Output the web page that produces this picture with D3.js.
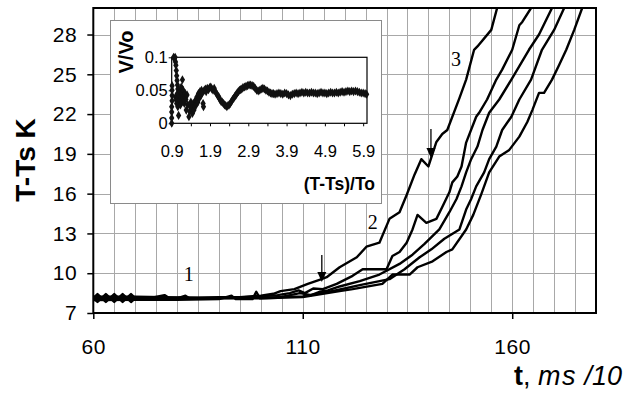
<!DOCTYPE html>
<html>
<head>
<meta charset="utf-8">
<script src="https://cdn.jsdelivr.net/npm/d3@7"></script>
<style>
  body { margin: 0; background: #fff; }
  svg { display: block; font-family: "Liberation Sans", Arial, sans-serif; }
</style>
</head>
<body>
<svg id="chart" width="637" height="393"></svg>
<script>
// main chart: T-Ts (K) against t (ms/10), five runs
const xTicks = [60, 110, 160];
const yTicks = [7, 10, 13, 16, 19, 22, 25, 28];
const xGrid = [65, 70, 75, 80, 85, 90, 95, 100, 105, 110, 115, 120, 125, 130, 135, 140, 145, 150, 155, 160, 165, 170, 175];
const yGrid = [10, 13, 16, 19, 22, 25, 28];

const curveA = [[60,8.13],[61,8.43],[63,7.83],[65,8.43],[67,7.83],[69,8.43],[70,8.13],[74,8.15],[77,8.35],[78,8.15],[85,8.15],[90,8.2],[95,8.2],[100,8.3],[103,8.45],[104.7,8.65],[108,8.8],[111.2,9.2],[114.5,9.55],[115.7,9.7],[118.8,10.45],[122.9,11.2],[125.2,12.0],[128.3,12.3],[130.7,14.1],[133.1,14.6],[134.8,15.9],[136.7,17.45],[138.3,18.6],[140.0,18.05],[141.9,19.9],[143.3,20.5],[144.5,20.8],[147.4,23.2],[149.0,24.6],[150.9,26.85],[151.7,27.1],[155.0,28.35],[156.4,30.0],[157,30.5]];
const curveB = [[60,8.13],[61,7.83],[63,8.43],[65,7.83],[67,8.43],[69,7.83],[70,8.1],[80,8.1],[82,8.3],[83,8.1],[90,8.15],[96,8.2],[100,8.25],[104,8.35],[106.9,8.5],[109,8.7],[110.5,8.5],[112.5,8.85],[114.8,8.8],[118.1,9.2],[121.9,9.8],[124.3,10.3],[130.0,10.3],[131.4,11.3],[133.1,11.6],[134.8,12.3],[136.2,13.3],[137.4,14.4],[139.5,13.8],[141.9,14.1],[143.3,15.0],[145.0,16.1],[145.7,16.85],[146.9,17.3],[147.9,18.05],[149.0,19.85],[151.4,21.8],[152.1,22.1],[154.0,23.1],[156.2,24.6],[157.6,25.35],[160.0,26.85],[161.7,28.7],[162.4,28.95],[164.5,30.0],[165,30.4]];
const curveC = [[60,7.98],[70,8.0],[80,8.0],[90,8.05],[93,8.3],[94,8.05],[98,8.05],[98.9,8.6],[99.8,8.1],[104,8.15],[107,8.35],[109.3,8.5],[112,8.35],[114,8.6],[116,8.7],[118.8,9.0],[123.6,9.4],[128.3,9.9],[133.1,10.7],[136.2,11.4],[139.0,12.2],[142.6,13.3],[145.0,14.6],[146.7,15.6],[147.9,16.55],[149.0,17.6],[150.2,18.6],[151.7,19.55],[152.9,20.8],[154.5,22.1],[156.9,23.1],[159.8,24.6],[164.0,26.85],[166.4,28.0],[169.5,30.0],[170,30.4]];
const curveD = [[60,8.1],[70,8.12],[80,8.08],[90,8.1],[100,8.15],[110,8.25],[116.4,8.6],[123.6,9.1],[130.7,9.55],[134.3,10.3],[137.9,11.2],[140.7,11.8],[143.8,12.6],[147.4,13.3],[149.0,14.8],[150.2,15.6],[151.4,16.55],[153.3,17.6],[154.5,18.6],[156.2,19.55],[157.6,20.8],[159.8,21.8],[161.7,23.1],[164.5,24.6],[167.1,26.85],[170.0,28.35],[172.4,30.0],[173,30.4]];
const curveE = [[60,8.22],[70,8.22],[80,8.18],[90,8.12],[100,8.1],[110,8.2],[118.8,8.65],[121.9,8.8],[129.0,9.2],[131.4,9.9],[135.5,9.9],[137.4,10.45],[141.0,10.9],[144.3,11.6],[145.7,11.8],[149.0,13.3],[150.7,14.4],[152.6,15.95],[154.5,17.6],[156.9,18.8],[159.3,19.3],[161.7,20.3],[163.6,21.4],[164.8,22.3],[166.4,23.6],[167.6,23.6],[169.5,24.6],[171.2,25.7],[172.9,26.85],[174.8,28.35],[176.7,30.0],[177.3,30.4]];

const curveLabels = [{ text: "1", t: 82.8, v: 9.94 }, { text: "2", t: 126.7, v: 13.86 }, { text: "3", t: 146.6, v: 26.16 }];
const arrows = [{ t: 114.55, from: 11.37, to: 9.34 }, { t: 140.6, from: 20.88, to: 18.69 }];

// inset: V/Vo against (T-Ts)/To
const insetXTicks = [0.9, 1.9, 2.9, 3.9, 4.9, 5.9];
const insetXMinor = [0.9, 1.4, 1.9, 2.4, 2.9, 3.4, 3.9, 4.4, 4.9, 5.4, 5.9];
const insetYTicks = [0, 0.05, 0.1];
const insetX = [0.90,0.90,0.90,0.90,0.91,0.91,0.91,0.91,0.95,0.97,0.99,1.00,1.01,1.02,1.03,1.04,1.05,1.06,
  1.00,1.02,1.03,1.05,1.06,1.07,1.08,1.09,1.10,1.11,1.12,1.13,1.14,1.15,1.16,1.17,1.18,1.19,1.20,1.22,1.23,1.25,1.27,1.28,1.30,1.32,
  1.35,1.37,1.39,1.40,1.42,1.44,1.46,1.48,1.50,1.52,1.54,1.56,1.58,1.60,1.62,1.64,1.66,1.68,
  1.70,1.72,1.73,1.75,1.78,1.80,1.83,1.86,1.89,1.92,1.95,1.98,2.01,2.04,2.07,
  2.10,2.13,2.16,2.19,2.22,2.25,2.28,2.31,2.34,2.37,2.40,2.43,2.46,2.49,2.52,2.55,2.58,2.61,2.64,2.67,2.70,2.73,2.76,2.80,2.84,2.88,2.92,2.96,
  3.00,3.04,3.08,3.12,3.16,3.20,3.24,3.28,3.32,3.36,3.40,3.44,3.48,3.52,3.56,3.60,3.65,3.70,3.75,3.80,3.85,3.90,3.95,
  4.00,4.05,4.10,4.15,4.20,4.25,4.30,4.35,4.40,4.45,4.50,4.55,4.60,4.65,4.70,4.75,4.80,4.85,4.90,4.95,
  5.00,5.05,5.10,5.15,5.20,5.25,5.30,5.35,5.40,5.45,5.50,5.55,5.60,5.65,5.70,5.75,5.80,5.85,5.90,5.95,5.99];
const insetV = [0.000,0.008,0.017,0.025,0.034,0.042,0.050,0.057,0.100,0.098,0.100,0.093,0.088,0.080,0.072,0.065,0.058,0.052,
  0.040,0.035,0.030,0.045,0.025,0.038,0.012,0.030,0.042,0.035,0.048,0.028,0.040,0.055,0.032,0.046,0.066,0.038,0.050,0.042,0.030,0.045,0.036,0.020,0.043,0.028,
  0.010,0.018,0.025,0.032,0.022,0.015,0.030,0.020,0.026,0.035,0.028,0.040,0.032,0.045,0.038,0.048,0.042,0.050,
  0.046,0.030,0.025,0.050,0.052,0.048,0.053,0.051,0.054,0.055,0.052,0.050,0.053,0.048,0.045,
  0.042,0.040,0.036,0.033,0.032,0.030,0.028,0.027,0.025,0.027,0.028,0.030,0.033,0.036,0.038,0.041,0.043,0.046,0.048,0.050,0.051,0.052,0.054,0.055,0.056,0.057,0.058,0.058,
  0.057,0.056,0.053,0.050,0.049,0.050,0.052,0.053,0.052,0.050,0.049,0.047,0.046,0.045,0.045,0.044,0.045,0.046,0.045,0.044,0.046,0.045,0.043,
  0.042,0.044,0.045,0.046,0.045,0.046,0.047,0.046,0.047,0.046,0.046,0.047,0.046,0.046,0.045,0.046,0.047,0.046,0.046,0.045,
  0.046,0.047,0.046,0.046,0.047,0.046,0.047,0.048,0.047,0.048,0.049,0.048,0.049,0.048,0.049,0.048,0.047,0.046,0.046,0.045,0.044];

const svg = d3.select("svg#chart");

let x = d3.scaleLinear().domain([60, 180]).range([93.3, 596]);
let y = d3.scaleLinear().domain([7, 30]).range([313, 8]);

// grid
let g_grid = svg.append("g").attr("stroke", "#a8a8a8").attr("stroke-width", 1);
g_grid.selectAll("line.v").data(xGrid).enter().append("line")
  .attr("class", "v")
  .attr("x1", d => Math.round(x(d)) + 0.5).attr("x2", d => Math.round(x(d)) + 0.5)
  .attr("y1", y(30)).attr("y2", y(7));
g_grid.selectAll("line.h").data(yGrid).enter().append("line")
  .attr("class", "h")
  .attr("x1", x(60)).attr("x2", x(180))
  .attr("y1", d => Math.round(y(d)) + 0.5).attr("y2", d => Math.round(y(d)) + 0.5);

// axes
let g_yaxis = svg.append("g").attr("transform", `translate(${x(60)},0)`)
  .call(d3.axisLeft(y).tickValues(yTicks).tickSize(6).tickSizeOuter(0).tickPadding(10));
let g_xaxis = svg.append("g").attr("transform", `translate(0,${y(7)})`)
  .call(d3.axisBottom(x).tickValues(xTicks).tickSize(6).tickSizeOuter(0).tickPadding(20));
for (const g of [g_yaxis, g_xaxis]) {
  g.select(".domain").remove();
  g.selectAll(".tick line").attr("stroke", "#000").attr("stroke-width", 1.5);
  g.selectAll(".tick text").attr("font-size", 21).attr("fill", "#000")
    .attr("font-family", "Liberation Sans, Arial, sans-serif").attr("letter-spacing", 0.6);
}

// inset box (covers the grid)
let inset = svg.append("g");
inset.append("rect")
  .attr("x", 110.5).attr("y", 20.5).attr("width", 271).attr("height", 183)
  .attr("fill", "#fff").attr("stroke", "#8a8a8a").attr("stroke-width", 1);

// curves
svg.append("clipPath").attr("id", "plot-clip")
  .append("rect").attr("x", x(60)).attr("y", y(30)).attr("width", x(180) - x(60)).attr("height", y(7) - y(30));

let line = d3.line().x(d => x(d[0])).y(d => y(d[1]));
svg.append("g").attr("clip-path", "url(#plot-clip)")
  .selectAll("path.curve").data([curveE, curveD, curveC, curveB, curveA]).enter().append("path")
  .attr("class", "curve")
  .attr("d", line)
  .attr("fill", "none").attr("stroke", "#000").attr("stroke-width", 2.4)
  .attr("stroke-linejoin", "round");

// arrows
let g_arrows = svg.append("g");
arrows.forEach(a => {
  let ax = x(a.t), y0 = y(a.from), y1 = y(a.to);
  g_arrows.append("line").attr("x1", ax).attr("x2", ax).attr("y1", y0).attr("y2", y1 - 6)
    .attr("stroke", "#000").attr("stroke-width", 1.3);
  g_arrows.append("path")
    .attr("d", `M${ax - 4.5},${y1 - 10}L${ax + 4.5},${y1 - 10}L${ax},${y1}Z`)
    .attr("fill", "#000");
});

// curve labels
svg.append("g").selectAll("text").data(curveLabels).enter().append("text")
  .attr("x", d => x(d.t)).attr("y", d => y(d.v))
  .attr("dy", "0.35em").attr("text-anchor", "middle")
  .attr("font-family", "Liberation Serif, Times New Roman, serif").attr("font-size", 20)
  .text(d => d.text);

// frame
svg.append("rect")
  .attr("x", x(60)).attr("y", y(30)).attr("width", x(180) - x(60)).attr("height", y(7) - y(30))
  .attr("fill", "none").attr("stroke", "#000").attr("stroke-width", 2);

// axis titles
svg.append("text")
  .attr("transform", "translate(35,160) rotate(-90)")
  .attr("text-anchor", "middle").attr("font-weight", "bold").attr("font-size", 28)
  .text("T-Ts K");

let xt = svg.append("text").attr("x", 514).attr("y", 385).attr("font-size", 27);
xt.append("tspan").attr("font-weight", "bold").text("t");
xt.append("tspan").text(", ");
xt.append("tspan").attr("font-style", "italic").attr("letter-spacing", 1.5).text("ms");
xt.append("tspan").attr("font-style", "italic").text(" /10");

// inset plot
let ix = d3.scaleLinear().domain([0.9, 6.0]).range([171.7, 367]);
let iy = d3.scaleLinear().domain([0, 0.1]).range([123.3, 57.3]);

let g_ixminor = inset.append("g").attr("transform", `translate(0,${iy(0)})`)
  .call(d3.axisBottom(ix).tickValues(insetXMinor).tickSize(3).tickSizeOuter(0).tickFormat(""));
let g_ixaxis = inset.append("g").attr("transform", `translate(0,${iy(0)})`)
  .call(d3.axisBottom(ix).tickValues(insetXTicks).tickSize(0).tickSizeOuter(0).tickPadding(22).tickFormat(d3.format(".1f")));
let g_iyaxis = inset.append("g").attr("transform", `translate(${ix(0.9)},0)`)
  .call(d3.axisLeft(iy).tickValues(insetYTicks).tickSize(3).tickSizeOuter(0).tickPadding(1).tickFormat(d => d === 0 ? "0" : String(d)));
for (const g of [g_ixminor, g_ixaxis, g_iyaxis]) {
  g.select(".domain").remove();
  g.selectAll(".tick line").attr("stroke", "#000");
  g.selectAll(".tick text").attr("font-size", 16.5).attr("fill", "#000")
    .attr("font-family", "Liberation Sans, Arial, sans-serif");
}

inset.append("rect")
  .attr("x", ix(0.9)).attr("y", iy(0.1)).attr("width", ix(6.0) - ix(0.9)).attr("height", iy(0) - iy(0.1))
  .attr("fill", "none").attr("stroke", "#000").attr("stroke-width", 1.2);

let diamond = d3.symbol(d3.symbolDiamond, 24);
inset.append("g").selectAll("path").data(insetX).enter().append("path")
  .attr("transform", (d, i) => `translate(${ix(d)},${iy(insetV[i])})`)
  .attr("d", diamond)
  .attr("fill", "#111");

inset.append("text")
  .attr("x", 375).attr("y", 190).attr("text-anchor", "end")
  .attr("font-weight", "bold").attr("font-size", 17.5)
  .text("(T-Ts)/To");
inset.append("text")
  .attr("transform", "translate(133,52) rotate(-90)")
  .attr("text-anchor", "middle").attr("font-weight", "bold").attr("font-size", 20)
  .text("V/Vo");
</script>
</body>
</html>
